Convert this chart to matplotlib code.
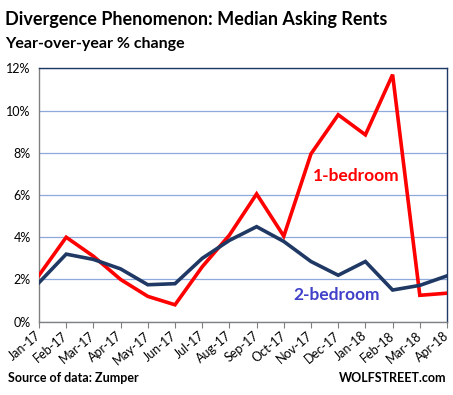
import matplotlib
matplotlib.use("Agg")
import matplotlib.pyplot as plt
import numpy as np

plt.rcParams['font.family'] = ['Lato', 'DejaVu Sans']

# Data (YoY % change)
months = ['Jan-17', 'Feb-17', 'Mar-17', 'Apr-17', 'May-17', 'Jun-17', 'Jul-17', 'Aug-17',
          'Sep-17', 'Oct-17', 'Nov-17', 'Dec-17', 'Jan-18', 'Feb-18', 'Mar-18', 'Apr-18']
one_bed = [2.2, 4.0, 3.1, 2.0, 1.2, 0.8, 2.6, 4.1, 6.05, 4.05, 7.95, 9.8, 8.85, 11.7, 1.25, 1.35]
two_bed = [1.85, 3.2, 2.95, 2.5, 1.75, 1.8, 3.0, 3.85, 4.5, 3.8, 2.85, 2.2, 2.85, 1.5, 1.72, 2.17]
yticks = [0, 2, 4, 6, 8, 10, 12]

fig = plt.figure(figsize=(4.53, 3.95), dpi=100)
ax = fig.add_axes([39/453, 1 - 321.7/395, (447 - 39)/453, (321.7 - 68.3)/395])

x = np.arange(len(months))
ax.plot(x, one_bed, color='#FF0000', linewidth=2.6, solid_joinstyle='miter', zorder=3)
ax.plot(x, two_bed, color='#1F3864', linewidth=2.6, solid_joinstyle='miter', zorder=3)

ax.set_xlim(0, len(months) - 1)
ax.set_ylim(0, 12)
ax.set_yticks(yticks)
ax.set_yticklabels([f'{v}%' for v in yticks], fontsize=9)
ax.set_xticks(x)
ax.set_xticklabels(months, rotation=40, ha='right', va='center', rotation_mode='anchor',
                   fontsize=9)
ax.tick_params(axis='y', length=0, pad=6)
ax.tick_params(axis='x', length=4, color='#808080', pad=5)

ax.grid(axis='y', color='#8EA9DB', linewidth=0.9)
ax.set_axisbelow(True)
ax.spines['left'].set_color('#808080')
ax.spines['bottom'].set_color('#808080')
ax.spines['top'].set_color('#1F3864')
ax.spines['right'].set_color('#1F3864')
for s in ax.spines.values():
    s.set_linewidth(1.0)

ax.text(11.65, 6.9, '1-bedroom', color='#FF0000', fontsize=12.5, fontweight='bold',
        ha='center', va='center')
ax.text(10.95, 1.25, '2-bedroom', color='#4040C8', fontsize=12.5, fontweight='bold',
        ha='center', va='center')

fig.text(5/453, 1 - 20/395, 'Divergence Phenomenon: Median Asking Rents', fontsize=13,
         fontweight='bold', ha='left', va='center')
fig.text(5/453, 1 - 44/395, 'Year-over-year % change', fontsize=11.5,
         fontweight='bold', ha='left', va='center')
fig.text(8/453, 1 - 378/395, 'Source of data: Zumper', fontsize=9,
         fontweight='bold', ha='left', va='center')
fig.text(446/453, 1 - 378/395, 'WOLFSTREET.com', fontsize=9,
         fontweight='bold', ha='right', va='center')

fig.savefig('out.png', dpi=100)
